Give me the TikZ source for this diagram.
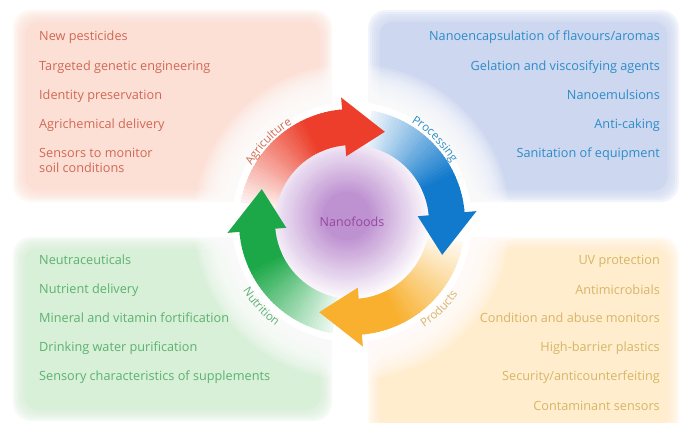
\documentclass[tikz,border=0pt]{standalone}
\usepackage{fontspec}
\setmainfont{Open Sans}
\usetikzlibrary{decorations.text}
\definecolor{pinkBG}{RGB}{252,224,214}
\definecolor{blueBG}{RGB}{205,215,240}
\definecolor{greenBG}{RGB}{216,239,216}
\definecolor{orangeBG}{RGB}{255,237,206}
\definecolor{pinkTX}{RGB}{210,104,84}
\definecolor{blueTX}{RGB}{45,140,200}
\definecolor{greenTX}{RGB}{92,178,112}
\definecolor{orangeTX}{RGB}{214,182,104}
\definecolor{redA}{RGB}{236,62,42}
\definecolor{blueA}{RGB}{18,122,204}
\definecolor{orangeA}{RGB}{248,176,46}
\definecolor{greenA}{RGB}{28,168,72}
\definecolor{nanoP}{RGB}{150,72,160}
\definecolor{purpA}{RGB}{160,95,188}

\newcommand{\nfPanel}[5]{%
  \foreach \k in {0,...,5}{
    \fill[#1, fill opacity=0.25, rounded corners=18pt] (#2+\k*2,#3+\k*2) rectangle (#4-\k*2,#5-\k*2);
  }
  \fill[#1, rounded corners=12pt] (#2+12,#3+12) rectangle (#4-12,#5-12);
}
\newcommand{\nfBody}[2]{%
  \foreach \i in {0,...,39}{
    \pgfmathsetmacro{\sa}{#2-\i*75/40}
    \pgfmathsetmacro{\ea}{#2-(\i+1)*75/40-0.6}
    \pgfmathtruncatemacro{\pp}{min(100,8+\i*3.2)}
    \fill[#1!\pp!white] (\sa:77) arc[start angle=\sa,end angle=\ea,radius=77] -- (\ea:113) arc[start angle=\ea,end angle=\sa,radius=113] -- cycle;
  }
}
\newcommand{\nfHead}[2]{%
  \pgfmathsetmacro{\ta}{#2-25}
  \fill[#1] (#2:66) -- (\ta:96) -- (#2:125) -- cycle;
}
\tikzset{
  ptl/.style={anchor=base west, inner sep=0pt, font=\fontsize{12.7}{14}\selectfont},
  ptr/.style={anchor=base east, inner sep=0pt, font=\fontsize{12.7}{14}\selectfont},
}
\begin{document}
\begin{tikzpicture}[x=1pt,y=-1pt]
\useasboundingbox (0,0) rectangle (683,423);
\fill[white] (0,0) rectangle (683,423);
% panels
\nfPanel{pinkBG}{13}{10}{332}{202}
\nfPanel{blueBG}{368}{10}{679}{202}
\nfPanel{greenBG}{13}{237}{332}{421}
\nfPanel{orangeBG}{368}{237}{679}{440}
% white fuzzy disc
\foreach \r in {158,155.5,...,120.5}{
  \fill[white, fill opacity=0.16] (352,222) circle[radius=\r];
}
\fill[white] (352,222) circle[radius=120];
% purple disc
\foreach \i in {0,...,40}{
  \pgfmathsetmacro{\rr}{86-\i*2}
  \pgfmathtruncatemacro{\pq}{min(68,\i*2.2)}
  \fill[purpA!\pq!white] (347,216) circle[radius=\rr];
}
\begin{scope}[shift={(352,222)}, yscale=-1]
  \nfBody{redA}{170}
  \nfBody{blueA}{80}
  \nfBody{orangeA}{-10}
  \nfBody{greenA}{260}
  \nfHead{redA}{95}
  \nfHead{blueA}{5}
  \nfHead{orangeA}{-85}
  \nfHead{greenA}{185}
  \path[decorate, decoration={text along path, text align=center,
    text={|\fontsize{11.5}{13}\selectfont\color{pinkTX}|Agriculture}}]
    (160:115) arc[start angle=160, end angle=112, radius=115];
  \path[decorate, decoration={text along path, text align=center,
    text={|\fontsize{11.5}{13}\selectfont\color{blueTX}|Processing}}]
    (70:116) arc[start angle=70, end angle=20, radius=116];
  \path[decorate, decoration={text along path, text align=center,
    text={|\fontsize{11.5}{13}\selectfont\color{orangeTX}|Products}}]
    (-69:128) arc[start angle=-69, end angle=-21, radius=128];
  \path[decorate, decoration={text along path, text align=center,
    text={|\fontsize{11.5}{13}\selectfont\color{greenTX}|Nutrition}}]
    (198:129) arc[start angle=198, end angle=248, radius=129];
\end{scope}
\node[font=\fontsize{12.5}{14}\selectfont, text=nanoP] (nano) at (352,222) {Nanofoods};
% agriculture
\node[ptl, text=pinkTX] (a1) at (39,40) {New pesticides};
\node[ptl, text=pinkTX] (a2) at (39,70) {Targeted genetic engineering};
\node[ptl, text=pinkTX] (a3) at (39,99) {Identity preservation};
\node[ptl, text=pinkTX] (a4) at (39,128) {Agrichemical delivery};
\node[ptl, text=pinkTX] (a5) at (39,157) {Sensors to monitor};
\node[ptl, text=pinkTX] (a6) at (39,172) {soil conditions};
% processing
\node[ptr, text=blueTX] (b1) at (660,40) {Nanoencapsulation of flavours/aromas};
\node[ptr, text=blueTX] (b2) at (660,70) {Gelation and viscosifying agents};
\node[ptr, text=blueTX] (b3) at (660,99) {Nanoemulsions};
\node[ptr, text=blueTX] (b4) at (660,128) {Anti-caking};
\node[ptr, text=blueTX] (b5) at (660,157) {Sanitation of equipment};
% nutrition
\node[ptl, text=greenTX] (g1) at (39,264) {Neutraceuticals};
\node[ptl, text=greenTX] (g2) at (39,293) {Nutrient delivery};
\node[ptl, text=greenTX] (g3) at (39,322) {Mineral and vitamin fortification};
\node[ptl, text=greenTX] (g4) at (39,351) {Drinking water purification};
\node[ptl, text=greenTX] (g5) at (39,380) {Sensory characteristics of supplements};
% products
\node[ptr, text=orangeTX] (o1) at (660,264) {UV protection};
\node[ptr, text=orangeTX] (o2) at (660,294) {Antimicrobials};
\node[ptr, text=orangeTX] (o3) at (660,322) {Condition and abuse monitors};
\node[ptr, text=orangeTX] (o4) at (660,351) {High-barrier plastics};
\node[ptr, text=orangeTX] (o5) at (660,380) {Security/anticounterfeiting};
\node[ptr, text=orangeTX] (o6) at (660,410) {Contaminant sensors};
\end{tikzpicture}
\end{document}
